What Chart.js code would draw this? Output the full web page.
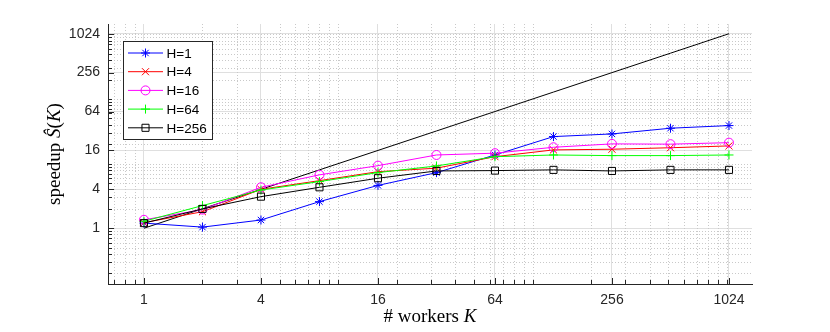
<!DOCTYPE html>
<html>
<head>
<meta charset="utf-8">
<script src="https://cdn.jsdelivr.net/npm/chart.js@4.4.1/dist/chart.umd.min.js"></script>
<style>
  html, body { margin: 0; padding: 0; background: #fff; }
</style>
</head>
<body>
<canvas id="speedupChart" width="830" height="332"></canvas>
<script>
// Workers on the x axis, speedup per history length H
const workers = [1, 2, 4, 8, 16, 32, 64, 128, 256, 512, 1024];
const linearSpeedup = [1, 2, 4, 8, 16, 32, 64, 128, 256, 512, 1024];
const speedupH1 = [1.2, 1.04, 1.34, 2.58, 4.6, 7.25, 13.6, 26.2, 28.8, 35.3, 38.8];
const speedupH4 = [1.22, 1.8, 4.0, 5.45, 7.5, 8.5, 12.8, 16.3, 16.7, 17.6, 18.8];
const speedupH16 = [1.35, 1.94, 4.3, 6.7, 9.3, 13.6, 14.5, 17.9, 20.2, 20.0, 21.1];
const speedupH64 = [1.28, 2.24, 3.9, 5.27, 7.26, 9.2, 12.8, 13.6, 13.3, 13.3, 13.6];
const speedupH256 = [1.2, 1.99, 3.08, 4.3, 5.94, 7.7, 7.8, 8.0, 7.7, 8.0, 8.0];
const xTicks = [1, 4, 16, 64, 256, 1024];
const yTicks = [1, 4, 16, 64, 256, 1024];

const axisColor = '#262626';
const tickFont = { family: 'Liberation Sans, Arial, sans-serif', size: 14 };

function toPoints(values) {
    return workers.map((k, i) => ({ x: k, y: values[i] }));
}

// decade based minor positions (2..9 x 10^n), like the log grid
function minorValues(min, max) {
    const out = [];
    for (let d = 0.1; d <= 10000; d *= 10) {
        for (let m = 1; m <= 9; m++) {
            const v = +(m * d).toPrecision(6);
            if (v >= min && v <= max) out.push(v);
        }
    }
    return out;
}

function series(label, values, color, pointStyle, radius, order) {
    return {
        label: label,
        data: toPoints(values),
        borderColor: color,
        backgroundColor: color,
        borderWidth: 1,
        pointStyle: pointStyle,
        pointRadius: radius,
        pointBorderColor: color,
        pointBackgroundColor: 'rgba(0,0,0,0)',
        pointBorderWidth: 1,
        tension: 0,
        fill: false,
        order: order
    };
}

// grid minor lines + inward tick marks
const logGridPlugin = {
    id: 'logGrid',
    beforeDatasetsDraw(chart) {
        const { ctx, chartArea: a, scales } = chart;
        ctx.save();
        ctx.strokeStyle = '#c9c9c9';
        ctx.lineWidth = 1;
        ctx.setLineDash([1, 2]);
        minorValues(scales.x.min, scales.x.max).forEach(v => {
            if (xTicks.includes(v)) return;
            const px = Math.round(scales.x.getPixelForValue(v)) + 0.5;
            ctx.beginPath(); ctx.moveTo(px, a.top); ctx.lineTo(px, a.bottom); ctx.stroke();
        });
        minorValues(scales.y.min, scales.y.max).forEach(v => {
            if (yTicks.includes(v)) return;
            const py = Math.round(scales.y.getPixelForValue(v)) + 0.5;
            ctx.beginPath(); ctx.moveTo(a.left, py); ctx.lineTo(a.right, py); ctx.stroke();
        });
        ctx.restore();
    },
    afterDatasetsDraw(chart) {
        const { ctx, chartArea: a, scales } = chart;
        ctx.save();
        ctx.strokeStyle = axisColor;
        ctx.lineWidth = 1;
        minorValues(scales.x.min, scales.x.max).concat(xTicks).forEach(v => {
            const len = xTicks.includes(v) ? 6 : 4;
            const px = Math.round(scales.x.getPixelForValue(v)) + 0.5;
            ctx.beginPath(); ctx.moveTo(px, a.bottom); ctx.lineTo(px, a.bottom - len); ctx.stroke();
        });
        minorValues(scales.y.min, scales.y.max).concat(yTicks).forEach(v => {
            const len = yTicks.includes(v) ? 6 : 4;
            const py = Math.round(scales.y.getPixelForValue(v)) + 0.5;
            ctx.beginPath(); ctx.moveTo(a.left, py); ctx.lineTo(a.left + len, py); ctx.stroke();
        });
        ctx.restore();
    }
};

// draws text made of roman / italic pieces
function drawMixed(ctx, parts, size) {
    const serif = 'Liberation Serif, Times New Roman, serif';
    let total = 0;
    parts.forEach(p => {
        ctx.font = (p[1] ? 'italic ' : '') + size + 'px ' + serif;
        total += ctx.measureText(p[0]).width;
    });
    let x = -total / 2;
    parts.forEach(p => {
        ctx.font = (p[1] ? 'italic ' : '') + size + 'px ' + serif;
        ctx.fillText(p[0], x, 0);
        x += ctx.measureText(p[0]).width;
    });
}

const titlesPlugin = {
    id: 'axisTitles',
    afterDraw(chart) {
        const { ctx, chartArea: a } = chart;
        ctx.save();
        ctx.fillStyle = '#000';
        ctx.textAlign = 'left';
        ctx.textBaseline = 'alphabetic';
        ctx.save();
        ctx.translate((a.left + a.right) / 2, 322);
        drawMixed(ctx, [['# workers ', false], ['K', true]], 19);
        ctx.restore();
        ctx.save();
        ctx.translate(60, (a.top + a.bottom) / 2);
        ctx.rotate(-Math.PI / 2);
        drawMixed(ctx, [['speedup ', false], ['\u015C', true], ['(', false], ['K', true], [')', false]], 19);
        ctx.restore();
        ctx.restore();
    }
};

// boxed legend in the upper left corner
const boxLegendPlugin = {
    id: 'boxLegend',
    afterDraw(chart) {
        const { ctx } = chart;
        const entries = chart.data.datasets.filter(d => d.label);
        const box = { x: 123, y: 41, w: 89, h: 98 };
        ctx.save();
        ctx.fillStyle = '#fff';
        ctx.fillRect(box.x, box.y, box.w, box.h);
        ctx.strokeStyle = axisColor;
        ctx.lineWidth = 1;
        ctx.strokeRect(box.x + 0.5, box.y + 0.5, box.w, box.h);
        ctx.font = '13.5px Liberation Sans, Arial, sans-serif';
        ctx.textBaseline = 'middle';
        entries.forEach((d, i) => {
            const y = box.y + 12 + i * 18.7;
            ctx.strokeStyle = d.borderColor;
            ctx.lineWidth = 1;
            ctx.beginPath(); ctx.moveTo(128, y); ctx.lineTo(163, y); ctx.stroke();
            if (Chart.helpers && Chart.helpers.drawPoint) {
                ctx.fillStyle = 'rgba(0,0,0,0)';
                Chart.helpers.drawPoint(ctx, {
                    pointStyle: d.pointStyle, radius: d.pointRadius, rotation: 0, borderWidth: 1
                }, 145.5, y);
            }
            ctx.fillStyle = '#000';
            ctx.fillText(d.label, 166.5, y + 1);
        });
        ctx.restore();
    }
};

function loadChart() {
    const chartData = {
        datasets: [
            series('H=1', speedupH1, '#0000ff', 'star', 4.5, 5),
            series('H=4', speedupH4, '#ff0000', 'crossRot', 5, 4),
            series('H=16', speedupH16, '#ff00ff', 'circle', 4.5, 3),
            series('H=64', speedupH64, '#00ff00', 'cross', 4.5, 2),
            series('H=256', speedupH256, '#000000', 'rect', 5, 1),
            {
                label: '',
                data: toPoints(linearSpeedup),
                borderColor: '#000000',
                borderWidth: 1,
                pointRadius: 0,
                tension: 0,
                fill: false,
                order: 6
            }
        ]
    };

    const chartConfig = {
        type: 'line',
        data: chartData,
        options: {
            responsive: false,
            animation: false,
            devicePixelRatio: 1,
            layout: { padding: { left: 48, right: 78, top: 24, bottom: 18 } },
            plugins: {
                legend: { display: false },
                tooltip: { enabled: false }
            },
            scales: {
                x: {
                    type: 'logarithmic',
                    min: 0.653,
                    max: 1345,
                    afterBuildTicks: s => { s.ticks = xTicks.map(v => ({ value: v })); },
                    afterFit: s => { s.height = 30; },
                    ticks: {
                        callback: v => String(v),
                        color: axisColor,
                        font: tickFont,
                        padding: 8,
                        maxRotation: 0,
                        autoSkip: false
                    },
                    grid: { color: '#dfdfdf', lineWidth: 1, drawTicks: false },
                    border: { color: axisColor, width: 1 }
                },
                y: {
                    type: 'logarithmic',
                    min: 0.137,
                    max: 1448,
                    afterBuildTicks: s => { s.ticks = yTicks.map(v => ({ value: v })); },
                    afterFit: s => { s.width = 60; },
                    ticks: {
                        callback: v => String(v),
                        color: axisColor,
                        font: tickFont,
                        padding: 8,
                        autoSkip: false
                    },
                    grid: { color: '#dfdfdf', lineWidth: 1, drawTicks: false },
                    border: { color: axisColor, width: 1 }
                }
            }
        },
        plugins: [logGridPlugin, titlesPlugin, boxLegendPlugin]
    };

    new Chart(document.getElementById('speedupChart'), chartConfig);
}

window.addEventListener('load', loadChart);
</script>
</body>
</html>
